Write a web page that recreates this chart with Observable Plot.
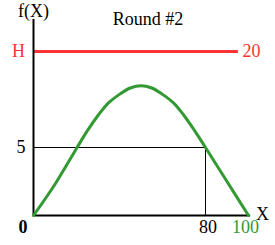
<!DOCTYPE html>
<html>
<head>
<meta charset="utf-8">
<script src="https://cdn.jsdelivr.net/npm/d3@7"></script>
<script src="https://cdn.jsdelivr.net/npm/@observablehq/plot@0.6"></script>
<style>
  html, body { margin: 0; padding: 0; background: #fff; }
  svg text { font-family: "Liberation Serif", "Times New Roman", "DejaVu Serif", serif; }
</style>
</head>
<body>
<div id="chart"></div>
<script>
// Data
const title = "Round #2";
const curveX = [0, 10, 20, 25, 30, 35, 40, 45, 50, 55, 60, 65, 70, 75, 80, 90, 100];
const curveY = [0, 2.3, 4.93, 7.6, 10.0, 12.0, 13.3, 14.3, 14.65, 14.3, 13.3, 12.0, 10.0, 7.6, 5, 2.5, 0];
const H = 20;
const hLabel = "H";
const hValue = "20";
const markX = 80;       // point where f(X) = 5
const markY = 5;
const xTicks = [0, 80, 100];
const xTickLabels = ["0", "80", "100"];
const yTicks = [5];
const yTickLabels = ["5"];
const xName = "X";
const yName = "f(X)";

const red = "#ff3333";
const green = "#339933";
const font = "Liberation Serif";

const curve = curveX.map((x, i) => ({x, y: curveY[i]}));
const yTop = 25;
const xEnd = 101;
const hEnd = 95.3;
const txt = {fontFamily: font, fontSize: 18};

const chart = Plot.plot({
  width: 275,
  height: 245,
  margin: 0,
  style: {background: "white", color: "black"},
  x: {type: "linear", domain: [0, 100], range: [33, 248], axis: null},
  y: {type: "linear", domain: [0, 5, 20, 25], range: [215, 147, 51, 19], axis: null},
  marks: [
    // guide lines to f(80)=5
    Plot.ruleY([markY], {x1: 0, x2: markX, stroke: "black", strokeWidth: 1}),
    Plot.ruleX([markX], {y1: 0, y2: markY, stroke: "black", strokeWidth: 1}),
    // H line
    Plot.ruleY([H], {x1: 0, x2: hEnd, stroke: red, strokeWidth: 3}),
    // axes
    Plot.ruleX([0], {y1: 0, y2: yTop, stroke: "black", strokeWidth: 2}),
    Plot.ruleY([0], {x1: 0, x2: xEnd, stroke: "black", strokeWidth: 2}),
    // curve
    Plot.line(curve, {x: "x", y: "y", stroke: green, strokeWidth: 3, curve: "catmull-rom"}),
    // x tick labels
    Plot.text([xTicks[0]], {...txt, x: d => d, y: 0, text: [xTickLabels[0]], dy: 12, dx: -10.5, fontWeight: "bold", fill: "black"}),
    Plot.text([xTicks[1]], {...txt, x: d => d, y: 0, text: [xTickLabels[1]], dy: 12, dx: 2.5, fill: "black"}),
    Plot.text([xTicks[2]], {...txt, x: d => d, y: 0, text: [xTickLabels[2]], dy: 12, dx: -3, fill: green}),
    // y tick labels
    Plot.text(yTicks, {...txt, x: 0, y: d => d, text: (d, i) => yTickLabels[i], dx: -12.5, fill: "black"}),
    // H labels
    Plot.text([H], {...txt, x: 0, y: d => d, text: [hLabel], dx: -15, fill: red}),
    Plot.text([H], {...txt, x: hEnd, y: d => d, text: [hValue], dx: 13, fill: red}),
    // axis names
    Plot.text([xName], {...txt, x: 100, y: 0, text: d => d, dx: 14, dy: -1, fill: "black"}),
    Plot.text([yName], {...txt, x: 0, y: yTop, text: d => d, dy: -8, fill: "black"}),
    // title
    Plot.text([title], {...txt, frameAnchor: "top", text: d => d, dx: 10, dy: 12, fill: "black"})
  ]
});
document.getElementById("chart").appendChild(chart);
</script>
</body>
</html>
